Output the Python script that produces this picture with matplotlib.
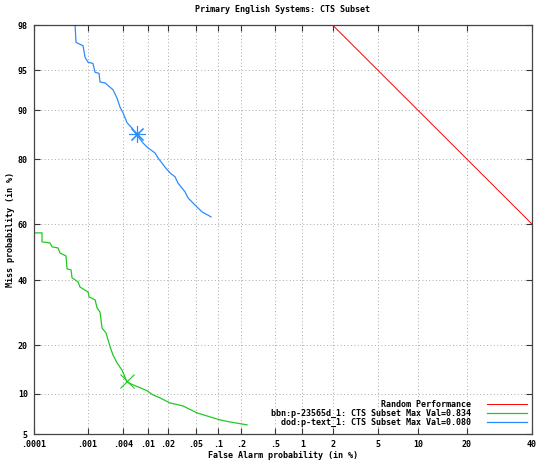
import math
import numpy as np
import matplotlib
matplotlib.use("Agg")
import matplotlib.pyplot as plt
from matplotlib.ticker import FixedLocator, FixedFormatter

# DET curve data, in percent
dod_fa = [0.000446, 0.000598, 0.000623, 0.00083, 0.000901, 0.00102, 0.00124, 0.00135,
          0.00158, 0.00164, 0.002, 0.00243, 0.00272, 0.00318, 0.00356, 0.00399, 0.00463,
          0.00558, 0.0067, 0.00834, 0.00998, 0.0128, 0.0142, 0.0181, 0.0215, 0.0255,
          0.0281, 0.0355, 0.0392, 0.0491, 0.0614, 0.0814]
dod_miss = [98, 98, 97.1, 96.9, 96.1, 95.7, 95.6, 94.8, 94.7, 93.8, 93.7, 93.2, 92.9,
            91.8, 90.5, 89.6, 87.9, 86.9, 85.5, 83.8, 82.7, 81.5, 80.3, 77.9, 76.3, 75.2,
            73.4, 70.7, 68.8, 66.5, 64.2, 62.5]
dod_best = (0.0067, 85.7)

bbn_fa = [0.0001, 0.000146, 0.000146, 0.000207, 0.000226, 0.000292, 0.000318, 0.00041,
          0.000428, 0.000506, 0.000528, 0.000676, 0.000734, 0.00102, 0.00106, 0.00135,
          0.00146, 0.00164, 0.00178, 0.00208, 0.00243, 0.00272, 0.00318, 0.00384, 0.00463,
          0.00579, 0.00748, 0.00963, 0.0119, 0.0152, 0.0215, 0.0332, 0.0524, 0.0789,
          0.107, 0.144, 0.236]
bbn_miss = [56.9, 56.9, 53.7, 53.3, 51.9, 51.5, 49.7, 48.6, 44, 43.6, 40.8, 39.4, 37.6,
            35.9, 34.3, 33.3, 30.7, 29.4, 24.6, 23.2, 19.6, 17.6, 15.8, 14.3, 12, 11.5,
            11, 10.5, 9.83, 9.37, 8.63, 8.21, 7.3, 6.81, 6.46, 6.23, 5.91]
bbn_best = (0.00463, 12.2)

random_fa = [2, 40]
random_miss = [98, 60]

x_ticks = [0.0001, 0.001, 0.004, 0.01, 0.02, 0.05, 0.1, 0.2, 0.5, 1, 2, 5, 10, 20, 40]
x_labels = ['.0001', '.001', '.004', '.01', '.02', '.05', '.1', '.2', '.5',
            '1', '2', '5', '10', '20', '40']
y_ticks = [5, 10, 20, 40, 60, 80, 90, 95, 98]
y_labels = ['5', '10', '20', '40', '60', '80', '90', '95', '98']


# normal deviate scale (probit), no scipy
def _ppf(p):
    p = min(max(p, 1e-12), 1 - 1e-12)
    a = [-3.969683028665376e+01, 2.209460984245205e+02, -2.759285104469687e+02,
         1.383577518672690e+02, -3.066479806614716e+01, 2.506628277459239e+00]
    b = [-5.447609879822406e+01, 1.615858368580409e+02, -1.556989798598866e+02,
         6.680131188771972e+01, -1.328068155288572e+01]
    c = [-7.784894002430293e-03, -3.223964580411365e-01, -2.400758277161838e+00,
         -2.549732539343734e+00, 4.374664141464968e+00, 2.938163982698783e+00]
    d = [7.784695709041462e-03, 3.224671290700398e-01, 2.445134137142996e+00,
         3.754408661907416e+00]
    if p < 0.02425:
        q = math.sqrt(-2 * math.log(p))
        x = (((((c[0]*q+c[1])*q+c[2])*q+c[3])*q+c[4])*q+c[5]) / ((((d[0]*q+d[1])*q+d[2])*q+d[3])*q+1)
    elif p > 1 - 0.02425:
        q = math.sqrt(-2 * math.log(1 - p))
        x = -(((((c[0]*q+c[1])*q+c[2])*q+c[3])*q+c[4])*q+c[5]) / ((((d[0]*q+d[1])*q+d[2])*q+d[3])*q+1)
    else:
        q = p - 0.5
        r = q * q
        x = (((((a[0]*r+a[1])*r+a[2])*r+a[3])*r+a[4])*r+a[5])*q / (((((b[0]*r+b[1])*r+b[2])*r+b[3])*r+b[4])*r+1)
    return x


def forward(v):
    v = np.asarray(v, dtype=float)
    out = np.array([_ppf(t / 100.0) for t in v.ravel()])
    return out.reshape(v.shape)


def inverse(z):
    z = np.asarray(z, dtype=float)
    out = np.array([50.0 * (1 + math.erf(t / math.sqrt(2))) for t in z.ravel()])
    return out.reshape(z.shape)


plt.rcParams['font.family'] = ['DejaVu Sans Mono']
plt.rcParams['font.weight'] = 'bold'
plt.rcParams['font.size'] = 6

fig = plt.figure(figsize=(5.38, 4.61), dpi=100)
ax = fig.add_axes([33.5 / 538, 27 / 461, 498.5 / 538, 409 / 461])

ax.set_xscale('function', functions=(forward, inverse))
ax.set_yscale('function', functions=(forward, inverse))

ax.plot(random_fa, random_miss, color='#ff0000', lw=0.7, label='Random Performance')
ax.plot(bbn_fa, bbn_miss, color='#22c822', lw=0.9,
        label='bbn:p-23565d_1: CTS Subset Max Val=0.834')
ax.plot(dod_fa, dod_miss, color='#2a8cff', lw=0.9,
        label='dod:p-text_1: CTS Subset Max Val=0.080')
ax.plot(*bbn_best, marker='x', ms=10, mew=0.8, color='#22c822', ls='none')
ax.plot(*dod_best, marker=(8, 2, 0), ms=12, mew=0.8, color='#2a8cff', ls='none')

ax.set_xlim(0.0001, 40)
ax.set_ylim(5, 98)
ax.xaxis.set_major_locator(FixedLocator(x_ticks))
ax.xaxis.set_major_formatter(FixedFormatter(x_labels))
ax.yaxis.set_major_locator(FixedLocator(y_ticks))
ax.yaxis.set_major_formatter(FixedFormatter(y_labels))
ax.minorticks_off()

ax.grid(True, color='#a8a8a8', lw=0.7, ls=(0, (1, 2.5)))
ax.tick_params(direction='in', length=4, width=0.8, color='#333333',
               top=True, right=True, pad=4, labelsize=6)
for s in ax.spines.values():
    s.set_color('#444444')
    s.set_linewidth(0.9)

ax.set_title('Primary English Systems: CTS Subset', fontsize=6, fontweight='bold', pad=9)
ax.set_xlabel('False Alarm probability (in %)', fontsize=6, fontweight='bold', labelpad=1.5)
ax.set_ylabel('Miss probability (in %)', fontsize=6, fontweight='bold', labelpad=2)

ax.legend(loc='lower right', bbox_to_anchor=(1.0, 0.005), frameon=False,
          markerfirst=False, fontsize=6, handlelength=4.8, labelspacing=0.0,
          handletextpad=1.9, borderaxespad=0.2, borderpad=0.4)

fig.savefig('out.png', dpi=100)
